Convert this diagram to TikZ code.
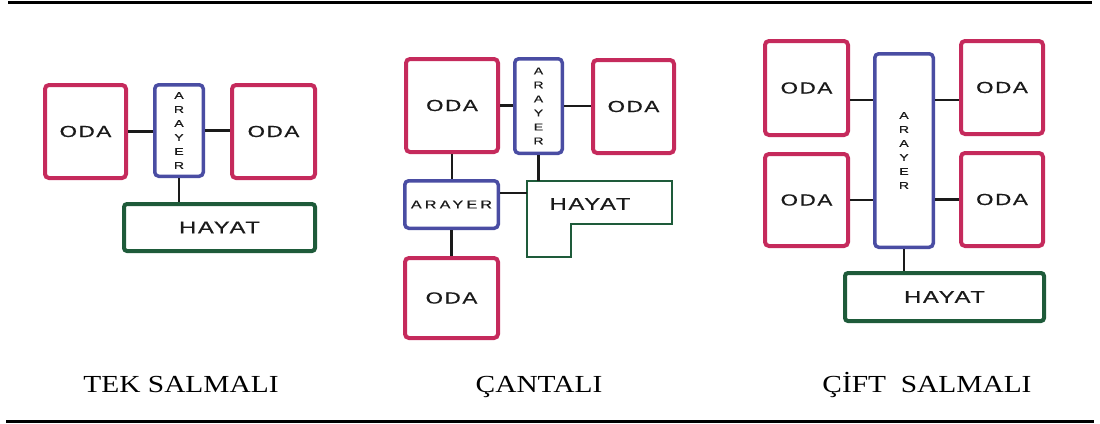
\documentclass[tikz,border=0pt]{standalone}
\usepackage{fontspec}
\setmainfont{Liberation Serif}
\newfontfamily\boxfont[FakeStretch=1.4,LetterSpace=10,FakeBold=0.6]{Liberation Sans}
\newfontfamily\arafont[FakeStretch=1.4,LetterSpace=28,FakeBold=0.6]{Liberation Sans}
\newfontfamily\capfont[FakeStretch=1.2]{Liberation Serif}
\usetikzlibrary{positioning}
\definecolor{odared}{HTML}{C52A5C}
\definecolor{arablue}{HTML}{4A4DA3}
\definecolor{hayatgreen}{HTML}{1E5B3A}
\definecolor{inkgray}{HTML}{1A1A1A}

\begin{document}
\begin{tikzpicture}[x=1pt, y=-1pt,
  oda/.style={rectangle, rounded corners=4pt,
    draw=odared, line width=4pt, inner sep=0pt,
    font=\boxfont\fontsize{16}{16}\selectfont, text=inkgray},
  arayer/.style={rectangle, rounded corners=4pt,
    draw=arablue, line width=3.5pt, inner sep=0pt,
    font=\boxfont\fontsize{10}{14}\selectfont, align=center, text=inkgray},
  arayerh/.style={arayer, font=\arafont\fontsize{11.5}{11.5}\selectfont},
  hayat/.style={rectangle, rounded corners=3pt,
    draw=hayatgreen, line width=4pt, inner sep=0pt,
    font=\boxfont\fontsize{17}{17}\selectfont, text=inkgray},
  hayattext/.style={inner sep=0pt, font=\boxfont\fontsize{17}{17}\selectfont, text=inkgray},
  lshape/.style={draw=hayatgreen, line width=2pt},
  link/.style={draw=inkgray, line width=2.3pt},
  caption/.style={anchor=base, inner sep=0pt, font=\capfont\fontsize{24.5}{24.5}\selectfont}
]
\useasboundingbox (0,0) rectangle (1100,423);
\draw[line width=3pt] (8,2.5) -- (1092,2.5);
\draw[line width=3pt] (6,421.5) -- (1094,421.5);

% tek salmali
\node[oda, minimum width=81, minimum height=93] (odaA1) at (85.5,131.5) {ODA};
\node[arayer, minimum width=48.5, minimum height=91.5] (arA1) at (179,130.5) {A\\R\\A\\Y\\E\\R};
\node[oda, minimum width=83, minimum height=93] (odaA2) at (273.5,131.5) {ODA};
\node[hayat, minimum width=191, minimum height=47] (hayatA) at (219.5,227.5) {HAYAT};
\foreach \a/\b in {odaA1.east/arA1.west, arA1.east/odaA2.west}
  {\draw[link] (\a) -- (\a -| \b);}
\draw[link] (arA1.south) -- (arA1.south |- hayatA.north);

% cantali
\node[oda, minimum width=92, minimum height=93] (odaB1) at (452,105.5) {ODA};
\node[arayer, minimum width=47.5, minimum height=94.5] (arB1) at (538.5,106) {A\\R\\A\\Y\\E\\R};
\node[oda, minimum width=81, minimum height=93] (odaB2) at (633.5,106.5) {ODA};
\node[arayerh, minimum width=93.5, minimum height=47.5] (arB2) at (451.5,204.5) {ARAYER};
\node[oda, minimum width=93, minimum height=80] (odaB3) at (451.5,298) {ODA};
\coordinate (hayatBnw) at (527,181);
\draw[lshape] (hayatBnw) -- (672,181) -- (672,224) -- (571,224)
  -- (571,257) -- (527,257) -- cycle;
\node[hayattext] (hayatB) at (590,204) {HAYAT};
\foreach \a/\b in {odaB1.east/arB1.west, arB1.east/odaB2.west}
  {\draw[link] (\a) -- (\a -| \b);}
\foreach \a/\b in {odaB1.south/arB2.north, arB2.south/odaB3.north, arB1.south/hayatBnw}
  {\draw[link] (\a) -- (\a |- \b);}
\coordinate (jB) at ([yshift=11.5pt]arB2.east);
\draw[link] (jB) -- (jB -| hayatBnw);

% cift salmali
\node[oda, minimum width=83, minimum height=94] (odaC1) at (806.5,88) {ODA};
\node[oda, minimum width=83, minimum height=92] (odaC2) at (806.5,200) {ODA};
\node[arayer, minimum width=58.5, minimum height=193.5] (arC) at (904,150.5) {A\\R\\A\\Y\\E\\R};
\node[oda, minimum width=82, minimum height=93] (odaC3) at (1002,87.5) {ODA};
\node[oda, minimum width=82, minimum height=93] (odaC4) at (1002,199.5) {ODA};
\node[hayat, minimum width=199, minimum height=48] (hayatC) at (944.5,297) {HAYAT};
\coordinate (jC1) at ([yshift=-12pt]odaC1.east);
\coordinate (jC3) at ([yshift=-12.5pt]odaC3.west);
\foreach \a/\b in {jC1/arC.west, odaC2.east/arC.west, jC3/arC.east, odaC4.west/arC.east}
  {\draw[link] (\a) -- (\a -| \b);}
\draw[link] (arC.south) -- (arC.south |- hayatC.north);

% captions
\node[caption] (capA) at (181,392.7) {TEK SALMALI};
\node[caption] (capB) at (539,392.7) {ÇANTALI};
\node[caption] (capC) at (927,392.7) {ÇİFT\ \ SALMALI};
\end{tikzpicture}
\end{document}
